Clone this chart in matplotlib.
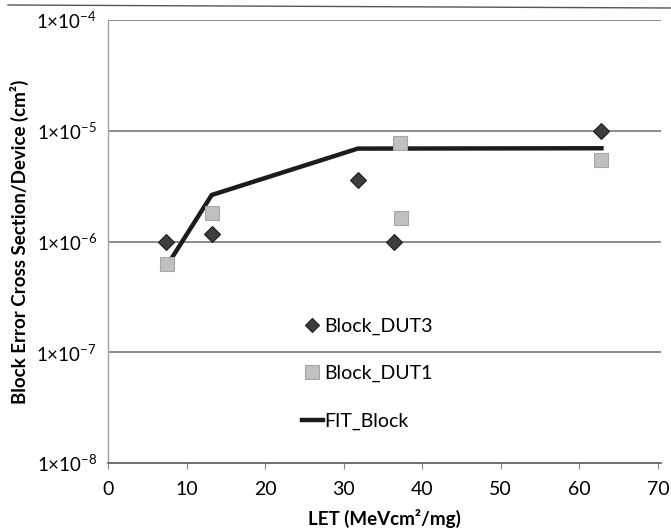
import matplotlib
matplotlib.use("Agg")
import matplotlib.pyplot as plt
from matplotlib.lines import Line2D

plt.rcParams['font.family'] = ['Lato', 'DejaVu Sans']
plt.rcParams['mathtext.fontset'] = 'custom'
plt.rcParams['mathtext.rm'] = 'Lato'
plt.rcParams['mathtext.it'] = 'Lato:italic'
plt.rcParams['mathtext.bf'] = 'Lato:bold'

# Data
dut3_let = [7.4, 13.2, 31.8, 36.4, 62.7]
dut3_xs = [1.0e-6, 1.17e-6, 3.6e-6, 0.99e-6, 9.9e-6]
dut1_let = [7.5, 13.3, 37.2, 37.3, 62.8]
dut1_xs = [6.2e-7, 1.82e-6, 7.7e-6, 1.63e-6, 5.4e-6]
fit_let = [7.9, 13.2, 31.8, 63.1]
fit_xs = [6.7e-7, 2.63e-6, 6.9e-6, 6.95e-6]
xticks = [0, 10, 20, 30, 40, 50, 60, 70]
yticks = [1e-8, 1e-7, 1e-6, 1e-5, 1e-4]
ytick_labels = [r'1×10$^{-8}$', r'1×10$^{-7}$', r'1×10$^{-6}$', r'1×10$^{-5}$', r'1×10$^{-4}$']

fig = plt.figure(figsize=(6.71, 5.31), dpi=100)
ax = fig.add_axes([108/671, 1-463/531, (661-108)/671, (463-20)/531])

ax.set_yscale('log')
ax.set_xlim(0, 70.4)
ax.set_ylim(1e-8, 1e-4)

for yv in yticks[1:]:
    ax.axhline(yv, color='#6e6e6e', lw=1.1, zorder=1)

ax.plot(fit_let, fit_xs, color='#1c1c1c', lw=3.2, solid_capstyle='butt', zorder=2, label='FIT_Block')
ax.plot(dut3_let, dut3_xs, ls='none', marker='D', ms=8, mfc='#3d3d3d', mec='#1e1e1e', mew=0.8, zorder=3, label='Block_DUT3')
ax.plot(dut1_let, dut1_xs, ls='none', marker='s', ms=10.5, mfc='#c0c0c0', mec='#a6a6a6', mew=0.8, zorder=3, label='Block_DUT1')

ax.set_xticks(xticks)
ax.set_xticklabels([str(v) for v in xticks], fontsize=14)
ax.set_yticks(yticks)
ax.set_yticklabels(ytick_labels, fontsize=13.5)
ax.minorticks_off()
ax.tick_params(axis='y', length=0, pad=8)
ax.tick_params(axis='x', length=4, color='#888888', direction='out', pad=9)

for s in ['top', 'right']:
    ax.spines[s].set_visible(False)
ax.spines['left'].set_color('#a0a0a0')
ax.spines['left'].set_linewidth(1.0)
ax.spines['bottom'].set_color('#555555')
ax.spines['bottom'].set_linewidth(1.2)

ax.set_xlabel('LET (MeVcm²/mg)', fontsize=13.5, fontweight='bold', labelpad=8)
ax.set_ylabel('Block Error Cross Section/Device (cm²)', fontsize=13.5, fontweight='bold', labelpad=5)

handles = [
    Line2D([], [], ls='none', marker='D', ms=7, mfc='#3d3d3d', mec='#1e1e1e', mew=0.8),
    Line2D([], [], ls='none', marker='s', ms=10, mfc='#c0c0c0', mec='#a6a6a6', mew=0.8),
    Line2D([], [], color='#1c1c1c', lw=3.2),
]
leg = ax.legend(handles, ['Block_DUT3', 'Block_DUT1', 'FIT_Block'], loc='upper left',
                bbox_to_anchor=((284-108)/553, (463-300)/443), frameon=False, fontsize=14,
                labelspacing=1.55, handlelength=1.1, handletextpad=0.05)

# scan border line at top
fig.add_artist(Line2D([8/671, 1.0], [1-5/531, 1-8/531], color='#555555', lw=1.0))

fig.savefig('out.png', dpi=100)
